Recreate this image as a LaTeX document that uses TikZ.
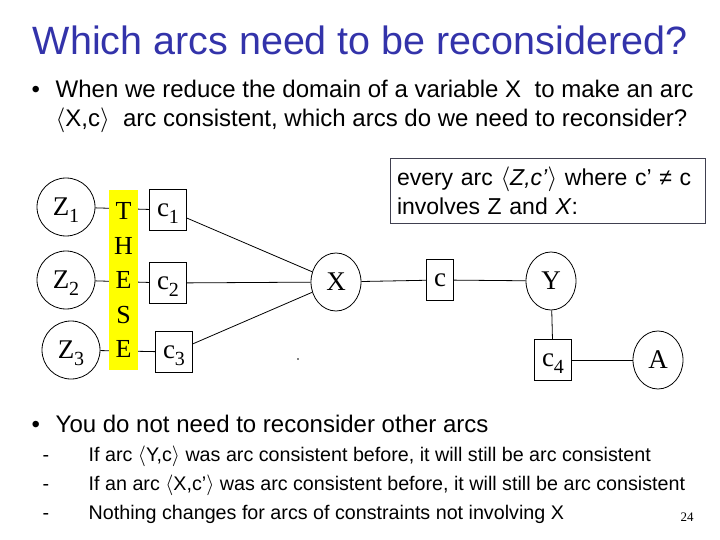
\documentclass[tikz,border=0pt]{standalone}
\usepackage{fontspec}
\setmainfont{Liberation Serif}
\setsansfont{Liberation Sans}
\usetikzlibrary{shapes.geometric}
\definecolor{titleblue}{HTML}{3333AA}
\definecolor{boxgrey}{HTML}{404050}
\definecolor{hilite}{HTML}{FFFF00}
\newcommand{\lowsub}[1]{\raisebox{-7pt}[0pt][0pt]{\fontsize{20}{20}\selectfont #1}}

\begin{document}
\begin{tikzpicture}[x=1pt, y=-1pt, line width=0.8pt,
    zvar/.style={circle, draw, minimum size=58pt, inner sep=0pt, font=\fontsize{27}{27}\selectfont},
    var/.style={ellipse, draw, minimum width=50pt, minimum height=58pt, inner sep=0pt, font=\fontsize{27}{27}\selectfont},
    con/.style={rectangle, draw, minimum width=37pt, minimum height=41pt, inner sep=0pt, font=\fontsize{27}{27}\selectfont},
    body/.style={anchor=base west, font=\sffamily\fontsize{24}{24}\selectfont},
    subbody/.style={anchor=base west, font=\sffamily\fontsize{19.7}{19.7}\selectfont}]
        \useasboundingbox (0,0) rectangle (720,540);

        % Title
        \node[titleblue, font=\sffamily\fontsize{39.5}{39.5}\selectfont] (title) at (360,40) {Which arcs need to be reconsidered?};

        % Question
        \node[body] (b1) at (28,98) {\textbullet};
        \node[body] (q1) at (52,98) {When we reduce the domain of a variable X\ \ to make an arc};
        \node[body] (q2) at (52,127) {$\langle$X,c$\rangle$\ \ arc consistent, which arcs do we need to reconsider?};

        % Constraint graph
        \node[zvar] (z1) at (66,207) {Z\lowsub{1}};
        \node[zvar] (z2) at (66,280) {Z\lowsub{2}};
        \node[zvar] (z3) at (71,350) {Z\lowsub{3}};
        \node[con] (c1) at (168,210) {c\lowsub{1}};
        \node[con] (c2) at (168,283) {c\lowsub{2}};
        \node[con] (c3) at (174,352) {c\lowsub{3}};
        \node[var] (x) at (336,282) {X};
        \node[con, minimum width=27pt] (c) at (440,280) {c};
        \node[var] (y) at (551,281) {Y};
        \node[con] (c4) at (553,360) {c\lowsub{4}};
        \node[var] (a) at (658,360) {A};

        \draw (z1) -- (c1);
        \draw (z2) -- (c2);
        \draw (z3) -- (c3);
        \draw (c1) -- (x);
        \draw (c2) -- (x);
        \draw (c3) -- (x);
        \draw (x) -- (c);
        \draw (c) -- (y);
        \draw (y) -- (c4);
        \draw (c4) -- (a);

        % Highlight bar
        \node[fill=hilite, minimum width=29pt, minimum height=180pt, inner sep=0pt, align=center,
          font=\fontsize{26}{34.5}\selectfont] (these) at (123.5,280) {T\\H\\E\\S\\E};

        \fill (298,359) circle (0.8);

        % Note box
        \node[draw=boxgrey, minimum width=315pt, minimum height=65pt, text width=301pt, inner sep=7pt,
          align=left, font=\sffamily\fontsize{23}{29}\selectfont] (note) at (547.5,190.5)
          {every arc $\langle$\textit{Z,c'}$\rangle$ where c' ≠ c\\involves Z and \textit{X}:};

        % Answer
        \node[body] (b2) at (28,432) {\textbullet};
        \node[body] (a1) at (52,432) {You do not need to reconsider other arcs};
        \node[subbody] (d1) at (39,461) {-};
        \node[subbody] (s1) at (85,461) {If arc $\langle$Y,c$\rangle$ was arc consistent before, it will still be arc consistent};
        \node[subbody] (d2) at (39,490) {-};
        \node[subbody] (s2) at (85,490) {If an arc $\langle$X,c'$\rangle$ was arc consistent before, it will still be arc consistent};
        \node[subbody] (d3) at (39,519) {-};
        \node[subbody] (s3) at (85,519) {Nothing changes for arcs of constraints not involving X};
        \node[anchor=base, font=\fontsize{13}{13}\selectfont] (page) at (687,521) {24};
      \end{tikzpicture}
\end{document}
